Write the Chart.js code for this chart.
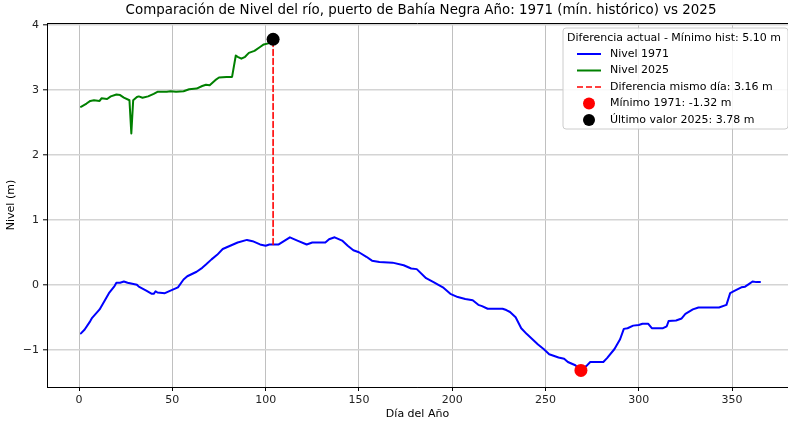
<!DOCTYPE html>
<html><head><meta charset="utf-8">
<script src="https://cdn.jsdelivr.net/npm/chart.js@4.4.1/dist/chart.umd.min.js"></script>
<style>html,body{margin:0;padding:0;background:#fff;overflow:hidden}</style>
</head><body>
<canvas id="c" width="788" height="422"></canvas>
<script>
const titleText = 'Comparación de Nivel del río, puerto de Bahía Negra Año: 1971 (mín. histórico) vs 2025';
const xLabel = 'Día del Año';
const yLabel = 'Nivel (m)';

const days1971 = [1,3,6,7,11,14,16,19,20,22,24,26,31,32,36,39,40,41,42,46,49,53,56,58,63,66,68,71,74,77,81,85,90,93,97,100,102,107,113,117,122,125,132,134,137,141,144,147,150,154,157,161,168,174,178,181,186,190,195,199,203,207,211,214,216,219,227,229,231,234,237,240,243,246,249,252,257,260,262,266,269,272,274,281,283,287,290,292,294,297,300,302,305,307,313,315,316,320,323,325,329,332,343,347,349,351,355,357,359,361,363,365];
const level1971 = [-0.75,-0.69,-0.56,-0.51,-0.38,-0.23,-0.13,-0.02,0.03,0.03,0.05,0.03,0.0,-0.03,-0.09,-0.14,-0.14,-0.10,-0.12,-0.13,-0.09,-0.04,0.08,0.13,0.20,0.26,0.31,0.39,0.46,0.55,0.60,0.65,0.69,0.67,0.62,0.60,0.62,0.62,0.73,0.68,0.62,0.65,0.65,0.70,0.73,0.68,0.60,0.53,0.50,0.43,0.37,0.35,0.34,0.30,0.25,0.24,0.10,0.04,-0.04,-0.14,-0.19,-0.22,-0.24,-0.31,-0.33,-0.37,-0.37,-0.39,-0.42,-0.50,-0.67,-0.76,-0.84,-0.92,-0.99,-1.07,-1.12,-1.14,-1.19,-1.24,-1.32,-1.25,-1.19,-1.19,-1.13,-0.99,-0.84,-0.68,-0.67,-0.63,-0.62,-0.60,-0.60,-0.67,-0.67,-0.64,-0.56,-0.55,-0.52,-0.45,-0.38,-0.35,-0.35,-0.31,-0.13,-0.10,-0.04,-0.03,0.01,0.05,0.04,0.04];

const days2025 = [1,4,6,8,11,12,15,17,20,22,24,27,28,29,31,32,34,37,40,42,47,49,52,56,59,63,66,68,70,73,75,79,82,84,85,87,89,91,94,97,99,102,104];
const level2025 = [2.74,2.79,2.83,2.84,2.83,2.87,2.86,2.90,2.93,2.92,2.88,2.84,2.33,2.84,2.89,2.90,2.88,2.90,2.94,2.97,2.97,2.98,2.97,2.98,3.01,3.02,3.06,3.08,3.07,3.15,3.19,3.20,3.20,3.53,3.51,3.48,3.51,3.57,3.60,3.66,3.70,3.72,3.78];

const diffDay = 104;
const diffLevels = [0.62, 3.78];
const minDay = 269, minValue = -1.32;
const lastDay = 104, lastValue = 3.78;

const xTickValues = [0,50,100,150,200,250,300,350];
const yTickValues = [-1,0,1,2,3,4];

const legendTitle = 'Diferencia actual - Mínimo hist: 5.10 m';
const legendLabels = ['Nivel 1971','Nivel 2025','Diferencia mismo día: 3.16 m','Mínimo 1971: -1.32 m','Último valor 2025: 3.78 m'];

const FONT = 'DejaVu Sans';
const toXY = (xs, ys) => xs.map((x, i) => ({x, y: ys[i]}));

const extras = {
  id: 'extras',
  afterDraw(chart) {
    const {ctx, chartArea: a} = chart;
    ctx.save();
    ctx.strokeStyle = '#000'; ctx.lineWidth = 1;
    ctx.beginPath(); ctx.moveTo(a.left, a.top + 0.5); ctx.lineTo(a.right, a.top + 0.5); ctx.stroke();
    ctx.fillStyle = '#000';
    ctx.font = '13.4px "' + FONT + '"';
    ctx.textAlign = 'center'; ctx.textBaseline = 'middle';
    ctx.fillText(titleText, 421, 11);
    const bx = 563, by = 28, bw = 225, bh = 101, r = 3;
    ctx.beginPath();
    ctx.moveTo(bx + r, by); ctx.lineTo(bx + bw - r, by); ctx.quadraticCurveTo(bx + bw, by, bx + bw, by + r);
    ctx.lineTo(bx + bw, by + bh - r); ctx.quadraticCurveTo(bx + bw, by + bh, bx + bw - r, by + bh);
    ctx.lineTo(bx + r, by + bh); ctx.quadraticCurveTo(bx, by + bh, bx, by + bh - r);
    ctx.lineTo(bx, by + r); ctx.quadraticCurveTo(bx, by, bx + r, by);
    ctx.closePath();
    ctx.fillStyle = 'rgba(255,255,255,0.85)'; ctx.fill();
    ctx.strokeStyle = '#cccccc'; ctx.lineWidth = 1; ctx.stroke();
    ctx.font = '11px "' + FONT + '"';
    ctx.textAlign = 'left'; ctx.textBaseline = 'middle';
    ctx.fillStyle = '#000';
    ctx.fillText(legendTitle, 567, 38.5);
    const rows = [54, 70.5, 87, 103.5, 120];
    const ds = chart.data.datasets;
    const order = ['Nivel 1971','Nivel 2025','Diferencia','Minimo','Ultimo'];
    rows.forEach((y, i) => {
      const d = ds.find(s => s.key === order[i]);
      if (i < 3) {
        ctx.strokeStyle = d.borderColor; ctx.lineWidth = d.borderWidth;
        ctx.setLineDash(d.borderDash || []);
        ctx.beginPath(); ctx.moveTo(577, y); ctx.lineTo(601, y); ctx.stroke();
        ctx.setLineDash([]);
      } else {
        ctx.fillStyle = d.backgroundColor;
        ctx.beginPath(); ctx.arc(589, y, 6, 0, Math.PI * 2); ctx.fill();
      }
      ctx.fillStyle = '#000';
      ctx.fillText(legendLabels[i], 610, y);
    });
    ctx.restore();
  }
};

new Chart(document.getElementById('c'), {
  type: 'line',
  data: {
    datasets: [
      {key: 'Ultimo', label: legendLabels[4], data: [{x: lastDay, y: lastValue}], showLine: false, pointRadius: 6.5, backgroundColor: '#000000', borderColor: '#000000', borderWidth: 0, order: 0},
      {key: 'Minimo', label: legendLabels[3], data: [{x: minDay, y: minValue}], showLine: false, pointRadius: 6.5, backgroundColor: '#ff0000', borderColor: '#ff0000', borderWidth: 0, order: 0},
      {key: 'Diferencia', label: legendLabels[2], data: diffLevels.map(v => ({x: diffDay, y: v})), borderColor: '#ff0000', borderWidth: 1.6, borderDash: [6, 3], pointRadius: 0, order: 1},
      {key: 'Nivel 2025', label: legendLabels[1], data: toXY(days2025, level2025), borderColor: '#008000', borderWidth: 2, pointRadius: 0, order: 2},
      {key: 'Nivel 1971', label: legendLabels[0], data: toXY(days1971, level1971), borderColor: '#0000ff', borderWidth: 2, pointRadius: 0, order: 2}
    ]
  },
  options: {
    responsive: false,
    animation: false,
    devicePixelRatio: 1,
    layout: {autoPadding: false, padding: {top: 23, right: 0, bottom: 0, left: 0}},
    plugins: {legend: {display: false}, tooltip: {enabled: false}, title: {display: false}},
    elements: {line: {tension: 0, borderJoinStyle: 'round', borderCapStyle: 'round'}},
    scales: {
      x: {
        type: 'linear', min: -17.2, max: 380,
        afterFit(s) { s.height = 35; s.paddingLeft = 0; s.paddingRight = 0; },
        afterBuildTicks(s) { s.ticks = xTickValues.map(v => ({value: v})); },
        ticks: {font: {family: FONT, size: 11}, color: '#222', padding: 3, callback: v => String(v)},
        grid: {color: '#b0b0b0', lineWidth: 0.8, tickLength: 4, tickColor: '#000', tickWidth: 1},
        border: {color: '#000', width: 1},
        title: {display: true, text: xLabel, font: {family: FONT, size: 11}, color: '#000', padding: {top: 0, bottom: 1}}
      },
      y: {
        type: 'linear', min: -1.575, max: 4.03,
        afterFit(s) { s.width = 47; s.paddingTop = 0; s.paddingBottom = 0; },
        afterBuildTicks(s) { s.ticks = yTickValues.map(v => ({value: v})); },
        ticks: {font: {family: FONT, size: 11}, color: '#222', padding: 4, callback: v => (v < 0 ? '\u2212' + Math.abs(v) : String(v))},
        grid: {color: '#d4d4d4', lineWidth: 1.6, tickLength: 4, tickColor: '#000', tickWidth: 1},
        border: {color: '#000', width: 1},
        title: {display: true, text: yLabel, font: {family: FONT, size: 11}, color: '#000', padding: {top: 5, bottom: 0}}
      }
    }
  },
  plugins: [extras]
});
</script>
</body></html>
